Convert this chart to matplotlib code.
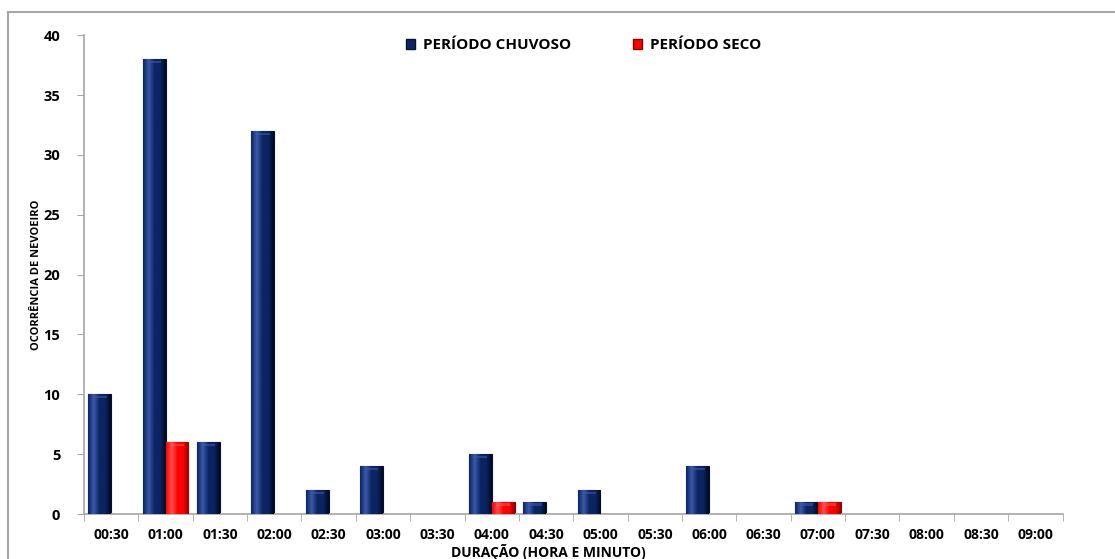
import numpy as np
import matplotlib
matplotlib.use("Agg")
import matplotlib.pyplot as plt
from matplotlib.lines import Line2D
from matplotlib.patches import Patch

# duração do nevoeiro (classes de 30 min) e número de ocorrências
duracao = ["00:30", "01:00", "01:30", "02:00", "02:30", "03:00", "03:30", "04:00", "04:30",
           "05:00", "05:30", "06:00", "06:30", "07:00", "07:30", "08:00", "08:30", "09:00"]
chuvoso = [10, 38, 6, 32, 2, 4, 0, 5, 1, 2, 0, 4, 0, 1, 0, 0, 0, 0]
seco = [0, 6, 0, 0, 0, 0, 0, 1, 0, 0, 0, 0, 0, 1, 0, 0, 0, 0]

plt.rcParams['font.family'] = ['Open Sans', 'DejaVu Sans']
plt.rcParams['font.weight'] = 'bold'

fig = plt.figure(figsize=(11.15, 5.59), dpi=100)
ax = fig.add_axes([0.0753, 0.0805, 0.8777, 0.8565])

# moldura externa do gráfico
fig.add_artist(Line2D([8 / 1115, 8 / 1115], [0, 1 - 12 / 559], transform=fig.transFigure,
                      color="#a6a6a6", lw=1.5))
fig.add_artist(Line2D([8 / 1115, 1], [1 - 12 / 559, 1 - 12 / 559], transform=fig.transFigure,
                      color="#a6a6a6", lw=1.5))

x = np.arange(len(duracao))
w = 0.42


def shade(bars, light, mid, dark):
    # gradiente horizontal para dar o efeito de barra em relevo
    cmap = matplotlib.colors.LinearSegmentedColormap.from_list("s", [mid, light, mid, mid, dark])
    grad = np.linspace(0, 1, 64).reshape(1, -1)
    for b in bars:
        if b.get_height() <= 0:
            continue
        x0, y0 = b.get_x(), b.get_y()
        im = ax.imshow(grad, cmap=cmap, aspect="auto", zorder=3,
                       extent=[x0, x0 + b.get_width(), y0, y0 + b.get_height()])
        im.set_clip_path(b)
        # brilho no topo
        h = min(0.35, b.get_height() * 0.3)
        ax.fill_between([x0 + b.get_width() * 0.2, x0 + b.get_width() * 0.8],
                        b.get_height() - h, b.get_height() - h * 0.4,
                        color=light, alpha=0.6, lw=0, zorder=4)


b1 = ax.bar(x - w / 2, chuvoso, w, color="#0b2463", edgecolor="#06112e", lw=0.8, zorder=2,
            label="PERÍODO CHUVOSO")
b2 = ax.bar(x + w / 2, seco, w, color="#ff0000", edgecolor="#8a0000", lw=0.8, zorder=2,
            label="PERÍODO SECO")
shade(b1, "#3a5aa8", "#0b2463", "#020a22")
shade(b2, "#ff5050", "#ff0000", "#9a0000")

ax.set_xlim(-0.5, len(duracao) - 0.5)
ax.set_ylim(0, 40)
ax.set_yticks(range(0, 41, 5))
ax.set_xticks(x)
ax.set_xticklabels(duracao)
ax.set_xticks(np.arange(-0.5, len(duracao), 1), minor=True)
ax.tick_params(axis="x", which="major", length=0, pad=10, labelsize=10)
ax.tick_params(axis="x", which="minor", length=5, color="#a6a6a6", direction="out")
ax.tick_params(axis="y", length=5, color="#a6a6a6", labelsize=10.5, pad=12)

for s in ["top", "right"]:
    ax.spines[s].set_visible(False)
for s in ["left", "bottom"]:
    ax.spines[s].set_color("#a6a6a6")
    ax.spines[s].set_linewidth(1.2)

ax.set_ylabel("OCORRÊNCIA DE NEVOEIRO", fontsize=8, fontweight="bold")
ax.yaxis.set_label_coords(-0.043, 0.5)
ax.set_xlabel("DURAÇÃO (HORA E MINUTO)", fontsize=10, fontweight="bold")
ax.xaxis.set_label_coords(0.475, -0.063)

handles = [Patch(facecolor="#0b2463", edgecolor="#06112e"),
           Patch(facecolor="#ff0000", edgecolor="#8a0000")]
ax.legend(handles, ["PERÍODO CHUVOSO", "PERÍODO SECO"], loc="center",
          bbox_to_anchor=(0.5105, 0.979), ncol=2, frameon=False, fontsize=11,
          handlelength=0.6, handleheight=0.6, columnspacing=4.1, handletextpad=0.5)

fig.savefig("out.png", dpi=100)
